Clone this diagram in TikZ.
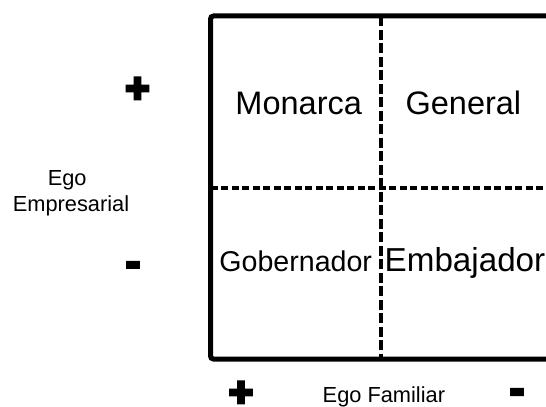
\documentclass[tikz,border=0pt]{standalone}
\usepackage{fontspec}
\setmainfont{Liberation Sans}
\newfontfamily\signfont[FakeBold=8]{Liberation Sans Bold}
\begin{document}
\begin{tikzpicture}[x=1bp,y=1bp,
  frame/.style={line width=5bp, rounded corners=3bp},
  divider/.style={line width=3.2bp},
  role/.style={inner sep=0pt, font=\fontsize{32.5bp}{36bp}\selectfont},
  axislabel/.style={inner sep=0pt, align=center, font=\fontsize{21.8bp}{26.7bp}\selectfont},
  sign/.style={inner sep=0pt, font=\signfont\fontsize{41bp}{45bp}\selectfont}]
\useasboundingbox (0,0) rectangle (546,406);
\clip (0,0) rectangle (546,406);
% quadrant frame (open on the right)
\coordinate (tr) at (560,390);
\coordinate (tl) at (210.5,390);
\coordinate (bl) at (210.5,47);
\coordinate (br) at (560,47);
\draw[frame] (tr) -- (tl) -- (bl) -- (br);
% dashed dividers
\coordinate (vt) at (381,390);
\coordinate (vb) at (381,47);
\coordinate (hl) at (210.5,218);
\coordinate (hr) at (560,218);
\draw[divider, dash pattern=on 10bp off 3.5bp] (vt) -- (vb);
\draw[divider, dash pattern=on 7bp off 3.5bp] (hl) -- (hr);
% quadrant names
\node[role, anchor=base] (monarca) at (298.7,292) {Monarca};
\node[role, anchor=base] (general) at (463.4,292) {General};
\node[role, anchor=base, font=\fontsize{28.6bp}{32bp}\selectfont] (gobernador) at (295.7,134.5) {Gobernador};
\node[role, anchor=base west, font=\fontsize{33.2bp}{36bp}\selectfont] (embajador) at (384.5,134.3) {Embajador};
% axis labels
\node[axislabel, anchor=base] (ego) at (67.2,221) {Ego};
\node[axislabel, anchor=base] (empresarial) at (71,194.3) {Empresarial};
\node[axislabel, anchor=base] (familiar) at (383.9,3.3) {Ego Familiar};
% axis signs
\node[sign] (eplus) at (137.5,316) {+};
\node[sign] (eminus) at (133,137) {-};
\node[sign] (fplus) at (241,12) {+};
\node[sign] (fminus) at (517,10) {-};
\end{tikzpicture}
\end{document}
